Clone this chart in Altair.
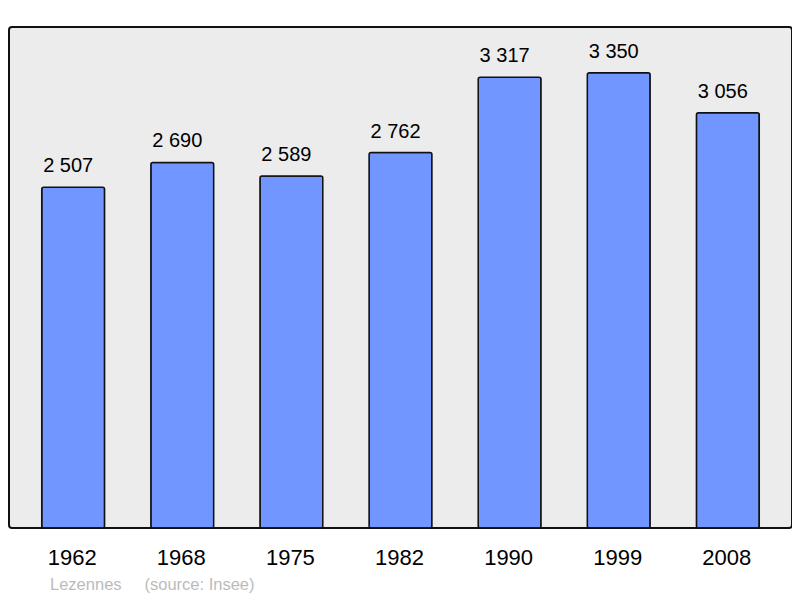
import altair as alt
import pandas as pd

years = ["1962", "1968", "1975", "1982", "1990", "1999", "2008"]
population = [2507, 2690, 2589, 2762, 3317, 3350, 3056]
labels = ["2 507", "2 690", "2 589", "2 762", "3 317", "3 350", "3 056"]
source_text = "Lezennes\u00a0\u00a0\u00a0\u00a0\u00a0(source: Insee)"

df = pd.DataFrame({"year": years, "pop": population, "label": labels})

FONT = "Liberation Sans"

x = alt.X("year:N", sort=years,
          scale=alt.Scale(paddingInner=0.424, paddingOuter=0.3),
          axis=alt.Axis(title=None, domain=False, ticks=False, tickSize=0,
                        labelAngle=0, labelFontSize=22, labelFont=FONT,
                        labelColor="#000000", labelBaseline="alphabetic",
                        labelPadding=36, labelOffset=-1))
y = alt.Y("pop:Q", scale=alt.Scale(domain=[0, 3686], nice=False, zero=True),
          axis=None)

bars = alt.Chart(df).mark_bar(
    color="#7196ff", stroke="#111111", strokeWidth=1.5, cornerRadius=2
).encode(x=x, y=y)

text = alt.Chart(df).mark_text(
    baseline="alphabetic", dx=-5, dy=-15, fontSize=20, font=FONT,
    color="#000000"
).encode(x=x, y=y, text="label:N")

chart = alt.layer(bars, text).properties(
    width=783, height=501,
    autosize=alt.AutoSizeParams(type="none"),
    padding={"left": 1, "top": 19, "right": 0, "bottom": 70},
    title=alt.TitleParams(source_text, orient="bottom", anchor="start",
                          fontSize=16.5, font=FONT, fontWeight="normal",
                          color="#bbbbbb", dx=41, offset=9),
    background="#ffffff",
).configure_view(
    fill="#ececec", stroke="#111111", strokeWidth=2, cornerRadius=3
)

chart.save("out.html", embed_options={"renderer": "svg", "actions": False})
